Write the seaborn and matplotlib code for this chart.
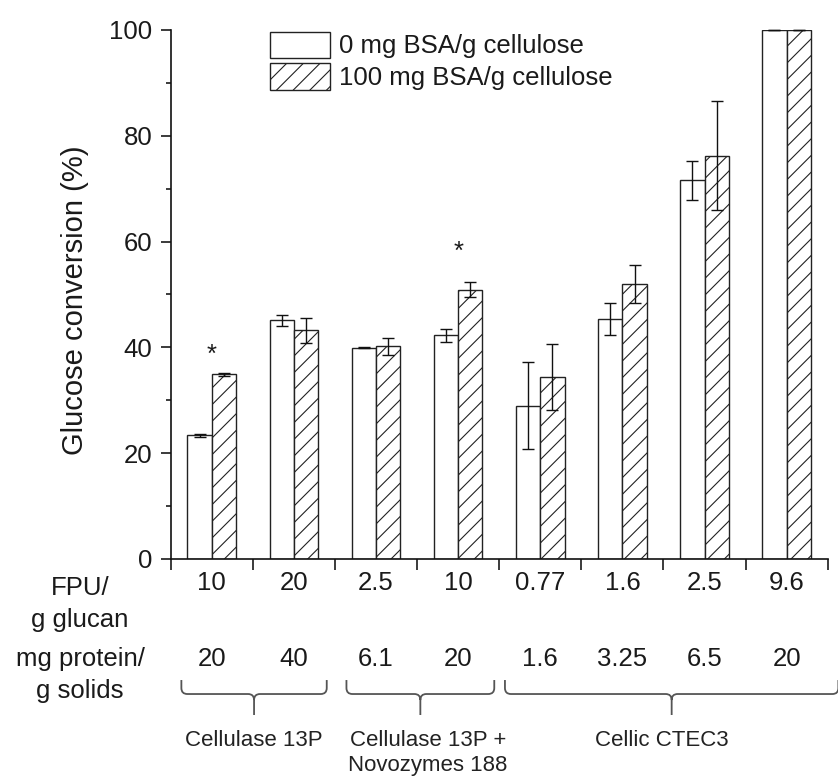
import numpy as np
import pandas as pd
import matplotlib
matplotlib.use("Agg")
import matplotlib.pyplot as plt
import matplotlib.transforms as mtransforms
from matplotlib.patches import Patch, PathPatch
from matplotlib.path import Path
from matplotlib.ticker import MultipleLocator, FixedLocator
import seaborn as sns

# ---- data -------------------------------------------------------------
fpu_labels = ["10", "20", "2.5", "10", "0.77", "1.6", "2.5", "9.6"]
protein_labels = ["20", "40", "6.1", "20", "1.6", "3.25", "6.5", "20"]
series_names = ["0 mg BSA/g cellulose", "100 mg BSA/g cellulose"]

conv_no_bsa = [23.4, 45.1, 39.9, 42.3, 29.0, 45.4, 71.6, 100.0]
err_no_bsa = [0.3, 1.0, 0.1, 1.2, 8.2, 3.0, 3.7, 0.0]
conv_bsa = [34.9, 43.2, 40.2, 50.9, 34.4, 51.9, 76.2, 100.0]
err_bsa = [0.25, 2.3, 1.6, 1.45, 6.3, 3.6, 10.3, 0.0]

significant = [0, 3]
enzyme_groups = ["Cellulase 13P", "Cellulase 13P +\nNovozymes 188", "Cellic CTEC3"]

# ---- style ------------------------------------------------------------
sns.set_style("ticks")
plt.rcParams["font.family"] = ["Liberation Sans", "DejaVu Sans"]
plt.rcParams["hatch.linewidth"] = 0.8
plt.rcParams["hatch.color"] = "#333333"
INK = "#1a1a1a"
FS = 18.5

n = len(fpu_labels)
df = pd.DataFrame({
    "cond": list(range(n)) * 2,
    "conv": conv_no_bsa + conv_bsa,
    "bsa": [series_names[0]] * n + [series_names[1]] * n,
})

fig = plt.figure(figsize=(8.38, 7.77), dpi=100)
ax = fig.add_axes([0.2037, 0.2806, 0.784, 0.6808])

sns.barplot(data=df, x="cond", y="conv", hue="bsa", hue_order=series_names,
            palette=["white", "white"], saturation=1, width=0.592,
            edgecolor="#222222", linewidth=1.0, errorbar=None,
            legend=False, ax=ax)

for p in ax.containers[1]:
    p.set_hatch("//")

# error bars on each bar
for cont, errs in zip(ax.containers, [err_no_bsa, err_bsa]):
    xs = [p.get_x() + p.get_width() / 2 for p in cont]
    ys = [p.get_height() for p in cont]
    ax.errorbar(xs, ys, yerr=errs, fmt="none", ecolor="#111111",
                elinewidth=1.0, capsize=4, capthick=1.0, clip_on=False,
                zorder=5)

# significance marks
star_y = [37.3, 56.7]
for idx, sy in zip(significant, star_y):
    ax.text(idx, sy, "*", ha="center", va="baseline", fontsize=FS, color=INK)

# axes cosmetics
ax.set_xlim(-0.5, n - 0.5)
ax.set_ylim(0, 100)
ax.set_xlabel("")
ax.set_ylabel("Glucose conversion (%)", fontsize=21, color=INK)
ax.yaxis.set_label_coords(-0.124, 0.49)
sns.despine(ax=ax)
for side in ("left", "bottom"):
    ax.spines[side].set_linewidth(1.2)
    ax.spines[side].set_color("#111111")

ax.set_yticks([0, 20, 40, 60, 80, 100])
ax.yaxis.set_minor_locator(MultipleLocator(10))
ax.tick_params(axis="y", which="major", length=7.2, width=1.2, pad=6,
               labelsize=FS, colors=INK, direction="out")
ax.tick_params(axis="y", which="minor", length=3.6, width=1.2,
               color=INK, direction="out")

ax.xaxis.set_major_locator(FixedLocator(np.arange(-0.5, n, 1.0)))
ax.xaxis.set_minor_locator(FixedLocator(np.arange(n)))
ax.set_xticklabels([], minor=False)
ax.set_xticklabels(fpu_labels, minor=True)
ax.tick_params(axis="x", which="major", length=8, width=1.2,
               direction="out", color=INK)
ax.tick_params(axis="x", which="minor", length=0, pad=9,
               labelsize=FS, labelcolor=INK)

# second row of category labels and row captions
xfig = mtransforms.blended_transform_factory(ax.transData, fig.transFigure)
for i, lab in enumerate(protein_labels):
    ax.text(i, 0.1520, lab, transform=xfig, ha="center", va="center",
            fontsize=FS, color=INK)
fig.text(0.0955, 0.2225, "FPU/\ng glucan", ha="center", va="center",
         multialignment="center", linespacing=1.45, fontsize=FS, color=INK)
fig.text(0.0955, 0.1310, "mg protein/\ng solids", ha="center", va="center",
         multialignment="center", linespacing=1.4, fontsize=FS, color=INK)

# braces grouping the enzyme preparations
brace_spans = [(-0.37, 1.40), (1.64, 3.44), (3.57, 7.63)]
label_x = [0.51, 2.63, 5.48]
y_top, y_h, y_bot = 0.1248, 0.1068, 0.0798
rx, ry = 6 / 82.1, 6 / 777


def brace_path(x0, x1):
    xc = (x0 + x1) / 2
    verts = [(x0, y_top), (x0, y_h + ry), (x0, y_h), (x0 + rx, y_h),
             (xc - rx, y_h), (xc, y_h), (xc, y_h - ry), (xc, y_bot),
             (xc, y_h - ry), (xc, y_h), (xc + rx, y_h),
             (x1 - rx, y_h), (x1, y_h), (x1, y_h + ry), (x1, y_top)]
    codes = [Path.MOVETO, Path.LINETO, Path.CURVE3, Path.CURVE3,
             Path.LINETO, Path.CURVE3, Path.CURVE3, Path.LINETO,
             Path.MOVETO, Path.CURVE3, Path.CURVE3,
             Path.LINETO, Path.CURVE3, Path.CURVE3, Path.LINETO]
    return Path(verts, codes)


for (x0, x1), lx, name in zip(brace_spans, label_x, enzyme_groups):
    fig.add_artist(PathPatch(brace_path(x0, x1), fill=False,
                             edgecolor="#555555", lw=1.3,
                             transform=xfig, clip_on=False))
    ax.text(lx, 0.0600, name, transform=xfig, ha="center", va="top",
            multialignment="center", linespacing=1.2, fontsize=16,
            color="#222222")

# legend
handles = [Patch(facecolor="white", edgecolor="#222222", lw=1.0),
           Patch(facecolor="white", edgecolor="#222222", lw=1.0, hatch="//")]
fig.legend(handles, series_names, loc="upper left",
           bbox_to_anchor=(270 / 838, (777 - 31.5) / 777),
           bbox_transform=fig.transFigure, frameon=False, fontsize=FS,
           handlelength=2.33, handleheight=1.2, labelspacing=0.2,
           handletextpad=0.35, borderpad=0, borderaxespad=0,
           labelcolor=INK)

fig.savefig("out.png", dpi=100, facecolor="white")
